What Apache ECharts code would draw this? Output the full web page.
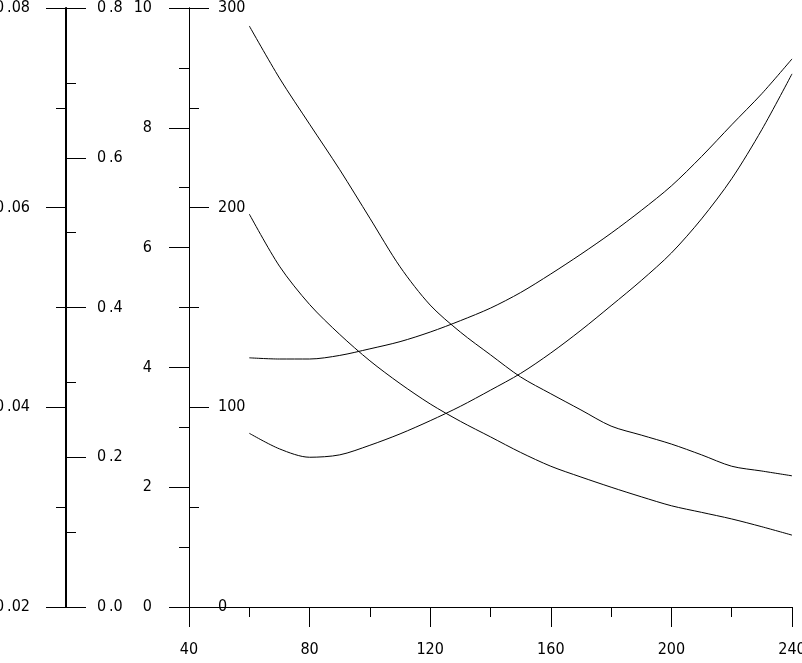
<!DOCTYPE html>
<html>
<head>
<meta charset="utf-8">
<script src="https://cdn.jsdelivr.net/npm/echarts@6/dist/echarts.min.js"></script>
<style>
  html, body { margin: 0; padding: 0; background: #fff; }
  #chart { width: 802px; height: 663px; }
</style>
</head>
<body>
<div id="chart"></div>
<script>
// x positions of the sampled curve points
const xValues = [60, 70, 80, 90, 100, 110, 120, 130, 140, 150, 160, 170, 180, 190, 200, 210, 220, 230, 240];

// curves, read against the 0-10 axis
const curveA = [9.70, 8.83, 8.06, 7.30, 6.49, 5.68, 5.04, 4.59, 4.21, 3.84, 3.56, 3.29, 3.02, 2.87, 2.72, 2.54, 2.35, 2.27, 2.19];
const curveB = [6.56, 5.69, 5.05, 4.55, 4.11, 3.73, 3.39, 3.10, 2.84, 2.58, 2.35, 2.17, 2.00, 1.84, 1.69, 1.58, 1.47, 1.34, 1.20];
const curveC = [4.16, 4.14, 4.14, 4.20, 4.31, 4.43, 4.59, 4.78, 4.99, 5.25, 5.56, 5.89, 6.24, 6.62, 7.03, 7.52, 8.05, 8.57, 9.15];
const curveD = [2.90, 2.64, 2.50, 2.54, 2.70, 2.89, 3.11, 3.35, 3.62, 3.90, 4.24, 4.62, 5.03, 5.45, 5.91, 6.48, 7.15, 7.97, 8.90];

// axis ranges
const xRange = [40, 240, 40];
const yMainRange = [0, 10, 2];
const yCountRange = [0, 300, 100];
const yRateRange = [0.02, 0.08, 0.02];
const yFracRange = [0, 0.8, 0.2];

// a thin gap before the decimal point, as the plotter font draws it
const fmt = (v, digits) => v.toFixed(digits).replace('.', '\u2009.');

const labelFont = {
  color: '#000',
  fontSize: 16,
  fontFamily: '"Liberation Sans Narrow", "DejaVu Sans Condensed", sans-serif'
};

function makeYAxis(range, opts) {
  return {
    type: 'value',
    position: 'left',
    offset: opts.offset,
    min: range[0],
    max: range[1],
    interval: range[2],
    splitLine: { show: false },
    axisLine: { show: true, onZero: false, lineStyle: { color: '#000', width: opts.lineWidth || 1 } },
    axisTick: { show: true, inside: opts.inside, length: 20, lineStyle: { color: '#000' } },
    minorTick: { show: true, splitNumber: 2, length: 10, lineStyle: { color: '#000' } },
    axisLabel: Object.assign({
      inside: opts.inside,
      margin: opts.margin,
      formatter: (v) => fmt(v, opts.digits)
    }, labelFont)
  };
}

const series = [curveA, curveB, curveC, curveD].map((vals, i) => ({
  name: 'curve' + (i + 1),
  type: 'line',
  yAxisIndex: 0,
  data: xValues.map((x, j) => [x, vals[j]]),
  showSymbol: false,
  smooth: 0.3,
  lineStyle: { color: '#000', width: 1 }
}));

const chart = echarts.init(document.getElementById('chart'));
chart.setOption({
  animation: false,
  backgroundColor: '#fff',
  grid: { left: 189, right: 10, top: 8, bottom: 56, containLabel: false, outerBoundsMode: 'none' },
  xAxis: {
    type: 'value',
    min: xRange[0],
    max: xRange[1],
    interval: xRange[2],
    splitLine: { show: false },
    axisLine: { show: true, onZero: false, lineStyle: { color: '#000' } },
    axisTick: { show: true, length: 20, lineStyle: { color: '#000' } },
    minorTick: { show: true, splitNumber: 2, length: 10, lineStyle: { color: '#000' } },
    axisLabel: Object.assign({ margin: 35, formatter: (v) => String(v) }, labelFont)
  },
  yAxis: [
    makeYAxis(yMainRange, { offset: 0, inside: false, margin: 37, digits: 0 }),
    makeYAxis(yCountRange, { offset: 0, inside: true, margin: 29, digits: 0 }),
    makeYAxis(yRateRange, { offset: 123, inside: false, margin: 36, digits: 2 }),
    makeYAxis(yFracRange, { offset: 123, inside: true, margin: 31, digits: 1, lineWidth: 2 })
  ],
  series: series
});
</script>
</body>
</html>
